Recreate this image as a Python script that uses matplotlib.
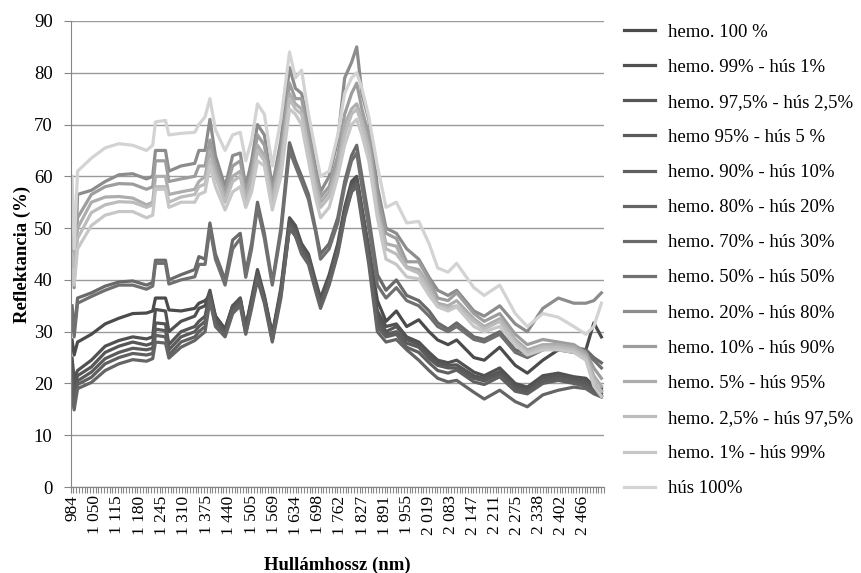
import matplotlib.pyplot as plt
import numpy as np

plt.rcParams['font.family'] = ['Liberation Serif', 'DejaVu Serif']

# hullámhossz pontok (nm)
wavelength = [984, 990, 1000, 1040, 1080, 1120, 1160, 1200, 1218, 1226,
              1255, 1265, 1300, 1340, 1352, 1370, 1384, 1400, 1428, 1450,
              1472, 1488, 1505, 1522, 1542, 1565, 1590, 1615, 1632, 1650,
              1670, 1690, 1705, 1730, 1755, 1775, 1795, 1810, 1825, 1845,
              1870, 1895, 1925, 1955, 1990, 2020, 2045, 2075, 2100, 2150,
              2180, 2225, 2270, 2305, 2350, 2395, 2440, 2475, 2498, 2520]

hemo100 = [28.4, 25.5, 28.0, 29.5, 31.5, 32.6, 33.5, 33.6, 34.0, 36.5,
           36.5, 34.2, 34.0, 34.5, 35.5, 36.0, 37.0, 33.0, 30.5, 35.0,
           36.0, 31.0, 36.0, 41.0, 36.5, 29.5, 37.5, 50.0, 48.5, 46.0,
           44.0, 39.0, 35.5, 40.0, 46.0, 53.0, 57.0, 58.5, 53.0, 46.0,
           36.0, 32.0, 34.0, 31.0, 32.3, 30.0, 28.4, 27.5, 28.4, 25.0,
           24.5, 27.0, 23.5, 22.0, 24.5, 26.5, 26.0, 26.5, 31.7, 29.0]
hemo99 = [24.9, 21.0, 22.5, 24.5, 27.2, 28.3, 29.0, 28.6, 29.0, 34.3,
          34.0, 30.0, 32.0, 33.0, 34.5, 35.0, 38.0, 33.0, 30.5, 35.0,
          36.5, 31.0, 36.5, 42.0, 37.0, 29.5, 38.5, 52.0, 50.5, 47.0,
          45.0, 40.0, 36.5, 41.0, 47.0, 54.0, 59.0, 60.0, 54.0, 46.0,
          34.0, 31.0, 31.5, 29.0, 28.0, 26.0, 24.5, 24.0, 24.5, 22.2,
          21.5, 23.0, 20.0, 19.3, 21.5, 22.0, 21.3, 21.0, 19.5, 19.0]
hemo975 = [23.2, 19.0, 21.5, 23.2, 26.0, 27.2, 28.0, 27.4, 27.8, 31.7,
           31.5, 27.5, 30.0, 31.0, 32.0, 33.0, 37.5, 32.5, 30.0, 34.8,
           36.5, 30.5, 36.0, 41.5, 36.5, 29.0, 38.0, 51.5, 50.0, 46.5,
           44.5, 39.5, 36.0, 40.5, 46.5, 53.5, 58.5, 59.5, 53.5, 45.5,
           33.0, 30.0, 31.0, 28.5, 27.5, 25.5, 24.0, 23.5, 23.6, 21.5,
           21.0, 22.3, 19.5, 18.8, 21.0, 21.5, 21.0, 20.5, 19.0, 18.5]
hemo95 = [22.0, 17.5, 20.5, 22.2, 24.8, 26.0, 26.8, 26.5, 26.8, 30.5,
          30.2, 26.5, 29.0, 30.0, 31.0, 32.0, 37.0, 32.0, 29.7, 34.5,
          36.0, 30.0, 35.5, 41.0, 36.5, 28.5, 37.5, 51.0, 49.5, 46.0,
          44.0, 39.0, 35.5, 40.0, 46.0, 53.0, 58.0, 59.0, 53.0, 45.0,
          32.0, 29.5, 30.0, 27.8, 27.0, 24.8, 23.5, 23.0, 23.0, 21.0,
          20.5, 21.8, 19.0, 18.5, 20.5, 21.0, 20.5, 20.0, 18.7, 18.0]
hemo90 = [20.6, 16.0, 19.8, 21.2, 23.8, 25.0, 25.8, 25.5, 25.8, 29.3,
          29.0, 25.5, 28.0, 29.0, 30.0, 31.0, 36.5, 31.5, 29.3, 34.0,
          35.5, 29.7, 35.0, 40.5, 36.0, 28.4, 37.0, 50.5, 49.0, 45.5,
          43.5, 38.6, 35.0, 39.5, 45.5, 52.5, 57.5, 58.5, 52.5, 44.0,
          31.0, 29.0, 29.5, 27.0, 26.0, 24.0, 22.5, 22.0, 22.6, 20.3,
          19.8, 21.3, 18.5, 18.0, 20.0, 20.6, 20.0, 19.5, 18.3, 17.5]
hemo80 = [17.4, 14.9, 19.0, 20.2, 22.5, 23.8, 24.6, 24.3, 24.8, 28.0,
          27.8, 24.9, 27.0, 28.3, 29.0, 30.0, 36.0, 31.0, 29.0, 33.5,
          35.0, 29.5, 34.5, 40.0, 35.5, 28.0, 36.5, 50.0, 48.5, 45.0,
          43.0, 38.0, 34.5, 39.0, 45.0, 52.0, 57.0, 58.0, 51.5, 43.0,
          30.0, 28.0, 28.5, 26.5, 24.5, 22.5, 21.0, 20.3, 20.6, 18.3,
          17.0, 18.7, 16.5, 15.5, 17.8, 18.7, 19.3, 19.0, 18.0, 17.4]
hemo70 = [35.0, 30.0, 36.5, 37.5, 38.8, 39.6, 39.8, 39.0, 39.5, 43.8,
          43.8, 40.0, 41.0, 42.0, 44.5, 44.0, 51.0, 45.0, 40.0, 47.7,
          49.0, 41.5, 47.0, 55.0, 49.0, 39.5, 50.0, 66.5, 63.0, 60.0,
          56.5, 50.0, 45.0, 47.0, 52.0, 59.0, 64.0, 66.0, 60.0, 52.0,
          41.0, 38.0, 40.0, 37.0, 36.0, 34.0, 31.7, 30.5, 31.7, 29.0,
          28.5, 30.0, 26.5, 25.8, 27.0, 27.8, 27.0, 26.5, 25.0, 24.0]
hemo50 = [34.0, 29.0, 35.5, 36.8, 38.0, 39.0, 39.0, 38.2, 38.8, 43.2,
          43.2, 39.2, 40.0, 40.6, 43.0, 43.0, 50.0, 44.0, 39.0, 46.0,
          48.0, 40.5, 46.0, 54.0, 48.0, 39.0, 49.0, 65.0, 62.0, 59.0,
          55.5, 49.5, 44.0, 46.0, 51.0, 58.0, 63.0, 64.5, 58.0, 50.0,
          39.0, 36.5, 38.5, 36.0, 35.0, 33.0, 31.0, 30.0, 31.0, 28.5,
          28.0, 29.5, 26.0, 25.0, 26.5, 27.0, 26.5, 25.8, 24.5, 23.0]
hemo20 = [57.0, 38.5, 56.5, 57.3, 59.0, 60.3, 60.5, 59.5, 60.0, 65.0,
          65.0, 61.0, 62.0, 62.5, 65.0, 65.0, 71.0, 64.0, 58.0, 64.0,
          64.5, 58.0, 63.0, 70.0, 68.0, 58.0, 67.0, 81.0, 77.0, 76.0,
          70.0, 62.0, 57.0, 60.0, 67.0, 79.0, 82.0, 85.0, 76.0, 71.0,
          58.0, 50.0, 49.0, 46.0, 44.0, 40.5, 38.0, 37.0, 38.0, 34.0,
          33.0, 35.0, 31.5, 30.0, 34.5, 36.5, 35.5, 35.5, 36.0, 37.5]
hemo10 = [50.0, 44.0, 52.0, 56.5, 58.0, 58.6, 58.5, 57.5, 58.0, 63.0,
          63.0, 59.0, 59.5, 60.0, 62.0, 62.0, 67.0, 62.0, 57.0, 62.0,
          63.0, 57.0, 61.0, 68.0, 66.0, 57.0, 65.0, 78.0, 75.0, 75.0,
          68.0, 61.0, 56.0, 58.0, 64.0, 72.0, 76.0, 78.0, 73.0, 68.0,
          56.0, 49.0, 48.0, 43.5, 43.5, 40.0, 36.5, 36.0, 37.5, 33.5,
          32.0, 33.5, 29.5, 27.5, 28.5, 28.0, 27.5, 26.0, 23.0, 21.0]
hemo5 = [47.0, 42.0, 50.0, 55.0, 56.0, 56.1, 55.8, 54.5, 55.0, 60.0,
         60.0, 56.5, 57.0, 57.5, 59.0, 60.0, 65.0, 61.0, 56.0, 60.0,
         61.0, 56.0, 60.0, 66.0, 64.0, 56.0, 63.0, 76.0, 74.0, 73.0,
         66.0, 59.0, 55.0, 57.0, 62.0, 70.0, 73.0, 74.0, 71.0, 66.0,
         54.0, 47.0, 46.5, 42.5, 42.0, 39.0, 35.5, 35.0, 36.0, 32.5,
         31.0, 32.5, 28.5, 26.5, 27.5, 27.5, 27.0, 25.5, 21.5, 19.5]
hemo25 = [45.0, 41.0, 48.0, 53.0, 54.5, 55.1, 55.0, 54.0, 54.5, 58.0,
          58.0, 55.0, 56.0, 56.5, 58.0, 58.5, 63.0, 60.0, 55.0, 59.0,
          60.0, 55.0, 58.0, 65.0, 63.0, 55.0, 62.0, 75.0, 73.0, 72.0,
          65.0, 58.0, 54.0, 56.0, 61.0, 68.0, 72.0, 73.0, 70.0, 65.0,
          53.0, 46.0, 45.0, 42.3, 41.3, 38.0, 35.0, 34.5, 35.0, 32.0,
          30.5, 32.0, 28.0, 26.0, 27.0, 27.0, 26.5, 25.0, 20.5, 18.5]
hemo1 = [42.0, 39.0, 46.0, 50.5, 52.5, 53.2, 53.2, 52.0, 52.5, 57.5,
         57.5, 54.0, 55.0, 55.0, 56.5, 57.0, 62.0, 58.0, 53.5, 57.0,
         58.0, 54.0, 57.0, 63.0, 62.0, 53.5, 60.0, 73.0, 72.0, 70.0,
         63.0, 56.0, 52.0, 54.0, 60.0, 66.0, 70.0, 71.0, 68.0, 63.0,
         52.0, 44.0, 43.0, 40.6, 40.2, 37.0, 34.8, 34.0, 34.8, 31.0,
         30.0, 31.0, 27.5, 25.5, 26.5, 26.5, 26.0, 24.5, 19.5, 17.5]
hus100 = [60.0, 46.0, 61.0, 63.5, 65.5, 66.3, 66.0, 65.0, 66.0, 70.5,
          70.8, 68.0, 68.3, 68.5, 70.0, 71.5, 75.0, 69.0, 65.0, 68.0,
          68.5, 63.0, 67.0, 74.0, 72.0, 62.0, 71.0, 84.0, 79.0, 80.5,
          72.0, 65.0, 60.0, 61.0, 68.0, 76.0, 79.0, 80.0, 77.0, 71.5,
          62.0, 54.0, 55.0, 51.0, 51.3, 47.0, 42.3, 41.5, 43.2, 38.5,
          37.0, 39.0, 33.5, 31.0, 33.5, 32.8, 31.0, 29.5, 31.0, 35.5]

labels = ['hemo. 100 %', 'hemo. 99% - hús 1%', 'hemo. 97,5% - hús 2,5%',
          'hemo 95% - hús 5 %', 'hemo. 90% - hús 10%', 'hemo. 80% - hús 20%',
          'hemo. 70% - hús 30%', 'hemo. 50% - hús 50%', 'hemo. 20% - hús 80%',
          'hemo. 10% - hús 90%', 'hemo. 5% - hús 95%', 'hemo. 2,5% - hús 97,5%',
          'hemo. 1% - hús 99%', 'hús 100%']
series = [hemo100, hemo99, hemo975, hemo95, hemo90, hemo80, hemo70, hemo50,
          hemo20, hemo10, hemo5, hemo25, hemo1, hus100]
colors = ['#4b4b4b', '#515151', '#565656', '#5b5b5b', '#606060', '#656565',
          '#6a6a6a', '#707070', '#8c8c8c', '#9d9d9d', '#adadad', '#bcbcbc',
          '#c7c7c7', '#d3d3d3']

tick_nm = [984, 1050, 1115, 1180, 1245, 1310, 1375, 1440, 1505, 1569, 1634,
           1698, 1762, 1827, 1891, 1955, 2019, 2083, 2147, 2211, 2275, 2338,
           2402, 2466]

fig = plt.figure(figsize=(8.61, 5.73), dpi=100)
ax = fig.add_axes([0.0821, 0.150, 0.6194, 0.8134])

for y, lab, c in zip(series, labels, colors):
    ax.plot(wavelength, y, color=c, lw=2.3, label=lab, solid_joinstyle='round')

ax.set_xlim(980, 2527)
ax.set_ylim(0, 90)
ax.set_yticks(range(0, 91, 10))
ax.yaxis.grid(True, color='#9a9a9a', lw=1)
ax.set_axisbelow(True)
ax.tick_params(axis='y', length=5, color='#868686', labelsize=13.5, pad=8)

ax.set_xticks(tick_nm)
ax.set_xticklabels([f'{v:,}'.replace(',', ' ') for v in tick_nm],
                   rotation=90, fontsize=12.5)
ax.set_xticks(np.arange(980, 2528, 8.06), minor=True)
ax.tick_params(axis='x', which='major', length=0, pad=6)
ax.tick_params(axis='x', which='minor', length=4, color='#868686', width=0.8)

for s in ['top', 'right']:
    ax.spines[s].set_visible(False)
for s in ['left', 'bottom']:
    ax.spines[s].set_color('#868686')

ax.set_ylabel('Reflektancia (%)', fontsize=13.5, fontweight='bold', labelpad=2)
ax.set_xlabel('Hullámhossz (nm)', fontsize=13.5, fontweight='bold', labelpad=16)

ax.legend(loc='upper left', bbox_to_anchor=(0.7247, 0.959),
          bbox_transform=fig.transFigure, frameon=False, fontsize=13.5,
          handlelength=1.65, handletextpad=0.7, labelspacing=0.96,
          borderpad=0, borderaxespad=0)

fig.savefig('out.png', dpi=100)
